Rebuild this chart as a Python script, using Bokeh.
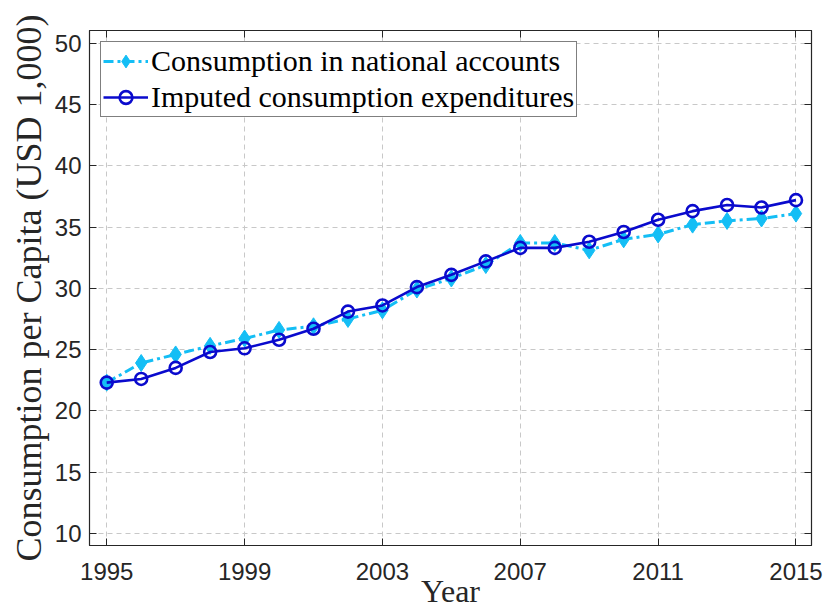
from bokeh.plotting import figure
from bokeh.models import Range1d, LinearAxis, FixedTicker, Legend, LegendItem
from bokeh.embed import file_html
from bokeh.resources import INLINE

years = list(range(1995, 2016))
national_accounts = [22.3, 23.9, 24.6, 25.3, 25.9, 26.6, 26.9, 27.5, 28.2, 29.9, 30.8,
                     31.9, 33.7, 33.7, 33.1, 34.0, 34.4, 35.2, 35.5, 35.7, 36.1]
imputed = [22.3, 22.6, 23.5, 24.8, 25.1, 25.8, 26.7, 28.1, 28.6, 30.1, 31.1,
           32.2, 33.3, 33.3, 33.8, 34.6, 35.6, 36.3, 36.8, 36.6, 37.2]
x_ticks = [1995, 1999, 2003, 2007, 2011, 2015]
y_ticks = [10, 15, 20, 25, 30, 35, 40, 45, 50]

light = "#14BEF5"
dark = "#0A0ACD"
axis_col = "#262626"
serif = "Liberation Serif"
sans = "Liberation Sans"

p = figure(width=827, height=614, output_backend="svg", toolbar_location=None,
           x_range=Range1d(1994.5, 2015.45), y_range=Range1d(9.0, 51.05),
           min_border_left=89, min_border_top=30, min_border_right=16, min_border_bottom=69)
p.outline_line_color = axis_col
p.outline_line_width = 1.2

for ax in (p.xaxis[0], p.yaxis[0]):
    ax.major_tick_in = 7
    ax.major_tick_out = 0
    ax.minor_tick_in = 0
    ax.minor_tick_out = 0
    ax.axis_line_color = axis_col
    ax.major_tick_line_color = axis_col
    ax.major_label_text_color = axis_col
    ax.major_label_text_font = sans
    ax.major_label_text_font_size = "24px"
    ax.axis_label_text_font = serif
    ax.axis_label_text_font_style = "normal"
    ax.axis_label_text_color = axis_col

p.xaxis.ticker = FixedTicker(ticks=x_ticks)
p.yaxis.ticker = FixedTicker(ticks=y_ticks)
p.xaxis.axis_label = "Year"
p.yaxis.axis_label = "Consumption per Capita (USD 1,000)"
p.xaxis.axis_label_text_font_size = "32px"
p.yaxis.axis_label_text_font_size = "36px"
p.xaxis.major_label_standoff = 17
p.yaxis.major_label_standoff = 8
p.xaxis.axis_label_standoff = -10
p.yaxis.axis_label_standoff = 3

for loc in ("above", "right"):
    ax = LinearAxis(ticker=FixedTicker(ticks=x_ticks if loc == "above" else y_ticks),
                    major_label_text_font_size="1px", major_label_text_color=None,
                    major_tick_in=7, major_tick_out=0,
                    minor_tick_in=0, minor_tick_out=0, axis_line_color=axis_col,
                    major_tick_line_color=axis_col, major_label_standoff=0)
    p.add_layout(ax, loc)

p.xgrid.ticker = FixedTicker(ticks=x_ticks)
p.ygrid.ticker = FixedTicker(ticks=y_ticks)
for g in (p.xgrid[0], p.ygrid[0]):
    g.grid_line_color = "#c8c8c8"
    g.grid_line_dash = "5 4"
    g.grid_line_width = 1

l1 = p.line(years, national_accounts, line_color=light, line_width=3, line_dash="10 4 3 4")
s1 = p.scatter(years, national_accounts, marker="diamond", size=17, fill_color=light,
               line_color=light, line_width=1)
l2 = p.line(years, imputed, line_color=dark, line_width=2.6)
s2 = p.scatter(years, imputed, marker="circle", size=12, fill_color=None,
               line_color=dark, line_width=2.6)

legend = Legend(items=[LegendItem(label="Consumption in national accounts", renderers=[l1, s1]),
                       LegendItem(label="Imputed consumption expenditures", renderers=[l2, s2])],
                location="top_left")
legend.label_text_font = serif
legend.label_text_font_size = "30px"
legend.label_text_color = "black"
legend.border_line_color = "black"
legend.border_line_width = 1.2
legend.background_fill_alpha = 1
legend.glyph_width = 45
legend.glyph_height = 32
legend.label_height = 32
legend.label_standoff = 3
legend.spacing = 2
legend.padding = 2
legend.margin = 11
p.add_layout(legend)

open("out.html", "w").write(file_html(p, INLINE))
